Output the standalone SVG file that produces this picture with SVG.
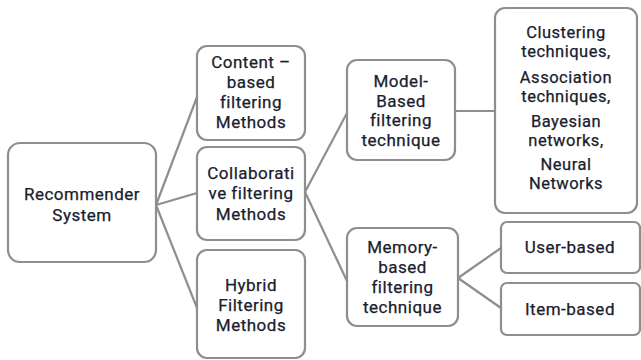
<svg xmlns="http://www.w3.org/2000/svg" width="641" height="360" viewBox="0 0 641 360">
  <style>
    .box { fill: #ffffff; stroke: #8e8e8e; stroke-width: 2.2; }
    .link { fill: none; stroke: #8e8e8e; stroke-width: 2.2; }
    .lbl { font-family: Roboto, "Liberation Sans", sans-serif; font-size: 17px; fill: #18202d; text-anchor: middle; letter-spacing: 0.5px; stroke: #18202d; stroke-width: 0.25px; }
    .sm { font-size: 16.5px; }
  </style>
  <rect width="641" height="360" fill="#ffffff"/>

  <!-- connectors -->
  <g id="connectors">
    <path class="link" d="M156,205 L197,97"/>
    <path class="link" d="M156,205 L197,193"/>
    <path class="link" d="M156,205 L197,308"/>
    <path class="link" d="M305,192 L347,113"/>
    <path class="link" d="M305,192 L347,281"/>
    <path class="link" d="M455,111 L495,111"/>
    <path class="link" d="M458,278 L501,248"/>
    <path class="link" d="M458,278 L501,308"/>
  </g>

  <g id="recommender">
    <rect class="box" x="8" y="143" width="148" height="119" rx="12"/>
    <text class="lbl" x="82" y="200">Recommender</text>
    <text class="lbl" x="82" y="221">System</text>
  </g>

  <g id="content-based">
    <rect class="box" x="197" y="46" width="108" height="94" rx="10"/>
    <text class="lbl" x="251" y="68">Content –</text>
    <text class="lbl" x="251" y="88">based</text>
    <text class="lbl" x="251" y="108">filtering</text>
    <text class="lbl" x="251" y="128">Methods</text>
  </g>

  <g id="collaborative">
    <rect class="box" x="197" y="147" width="108" height="93" rx="10"/>
    <text class="lbl" x="251" y="179">Collaborati</text>
    <text class="lbl" x="251" y="199">ve filtering</text>
    <text class="lbl" x="251" y="220">Methods</text>
  </g>

  <g id="hybrid">
    <rect class="box" x="197" y="250" width="108" height="108" rx="10"/>
    <text class="lbl" x="251" y="291">Hybrid</text>
    <text class="lbl" x="251" y="311">Filtering</text>
    <text class="lbl" x="251" y="331">Methods</text>
  </g>

  <g id="model-based">
    <rect class="box" x="347" y="60" width="108" height="100" rx="10"/>
    <text class="lbl" x="401" y="87">Model-</text>
    <text class="lbl" x="401" y="107">Based</text>
    <text class="lbl" x="401" y="126">filtering</text>
    <text class="lbl" x="401" y="146">technique</text>
  </g>

  <g id="memory-based">
    <rect class="box" x="347" y="228" width="111" height="98" rx="10"/>
    <text class="lbl" x="402.5" y="253">Memory-</text>
    <text class="lbl" x="402.5" y="273">based</text>
    <text class="lbl" x="402.5" y="293">filtering</text>
    <text class="lbl" x="402.5" y="313">technique</text>
  </g>

  <g id="model-techniques">
    <rect class="box" x="495" y="8" width="142" height="205" rx="10"/>
    <text class="lbl sm" x="566" y="38">Clustering</text>
    <text class="lbl sm" x="566" y="57">techniques,</text>
    <text class="lbl sm" x="566" y="83">Association</text>
    <text class="lbl sm" x="566" y="102">techniques,</text>
    <text class="lbl sm" x="566" y="127">Bayesian</text>
    <text class="lbl sm" x="566" y="146">networks,</text>
    <text class="lbl sm" x="566" y="170">Neural</text>
    <text class="lbl sm" x="566" y="189">Networks</text>
  </g>

  <g id="user-based">
    <rect class="box" x="501" y="222" width="139" height="51" rx="6"/>
    <text class="lbl" x="570" y="253">User-based</text>
  </g>

  <g id="item-based">
    <rect class="box" x="501" y="283" width="139" height="52" rx="6"/>
    <text class="lbl" x="570" y="315">Item-based</text>
  </g>
</svg>
